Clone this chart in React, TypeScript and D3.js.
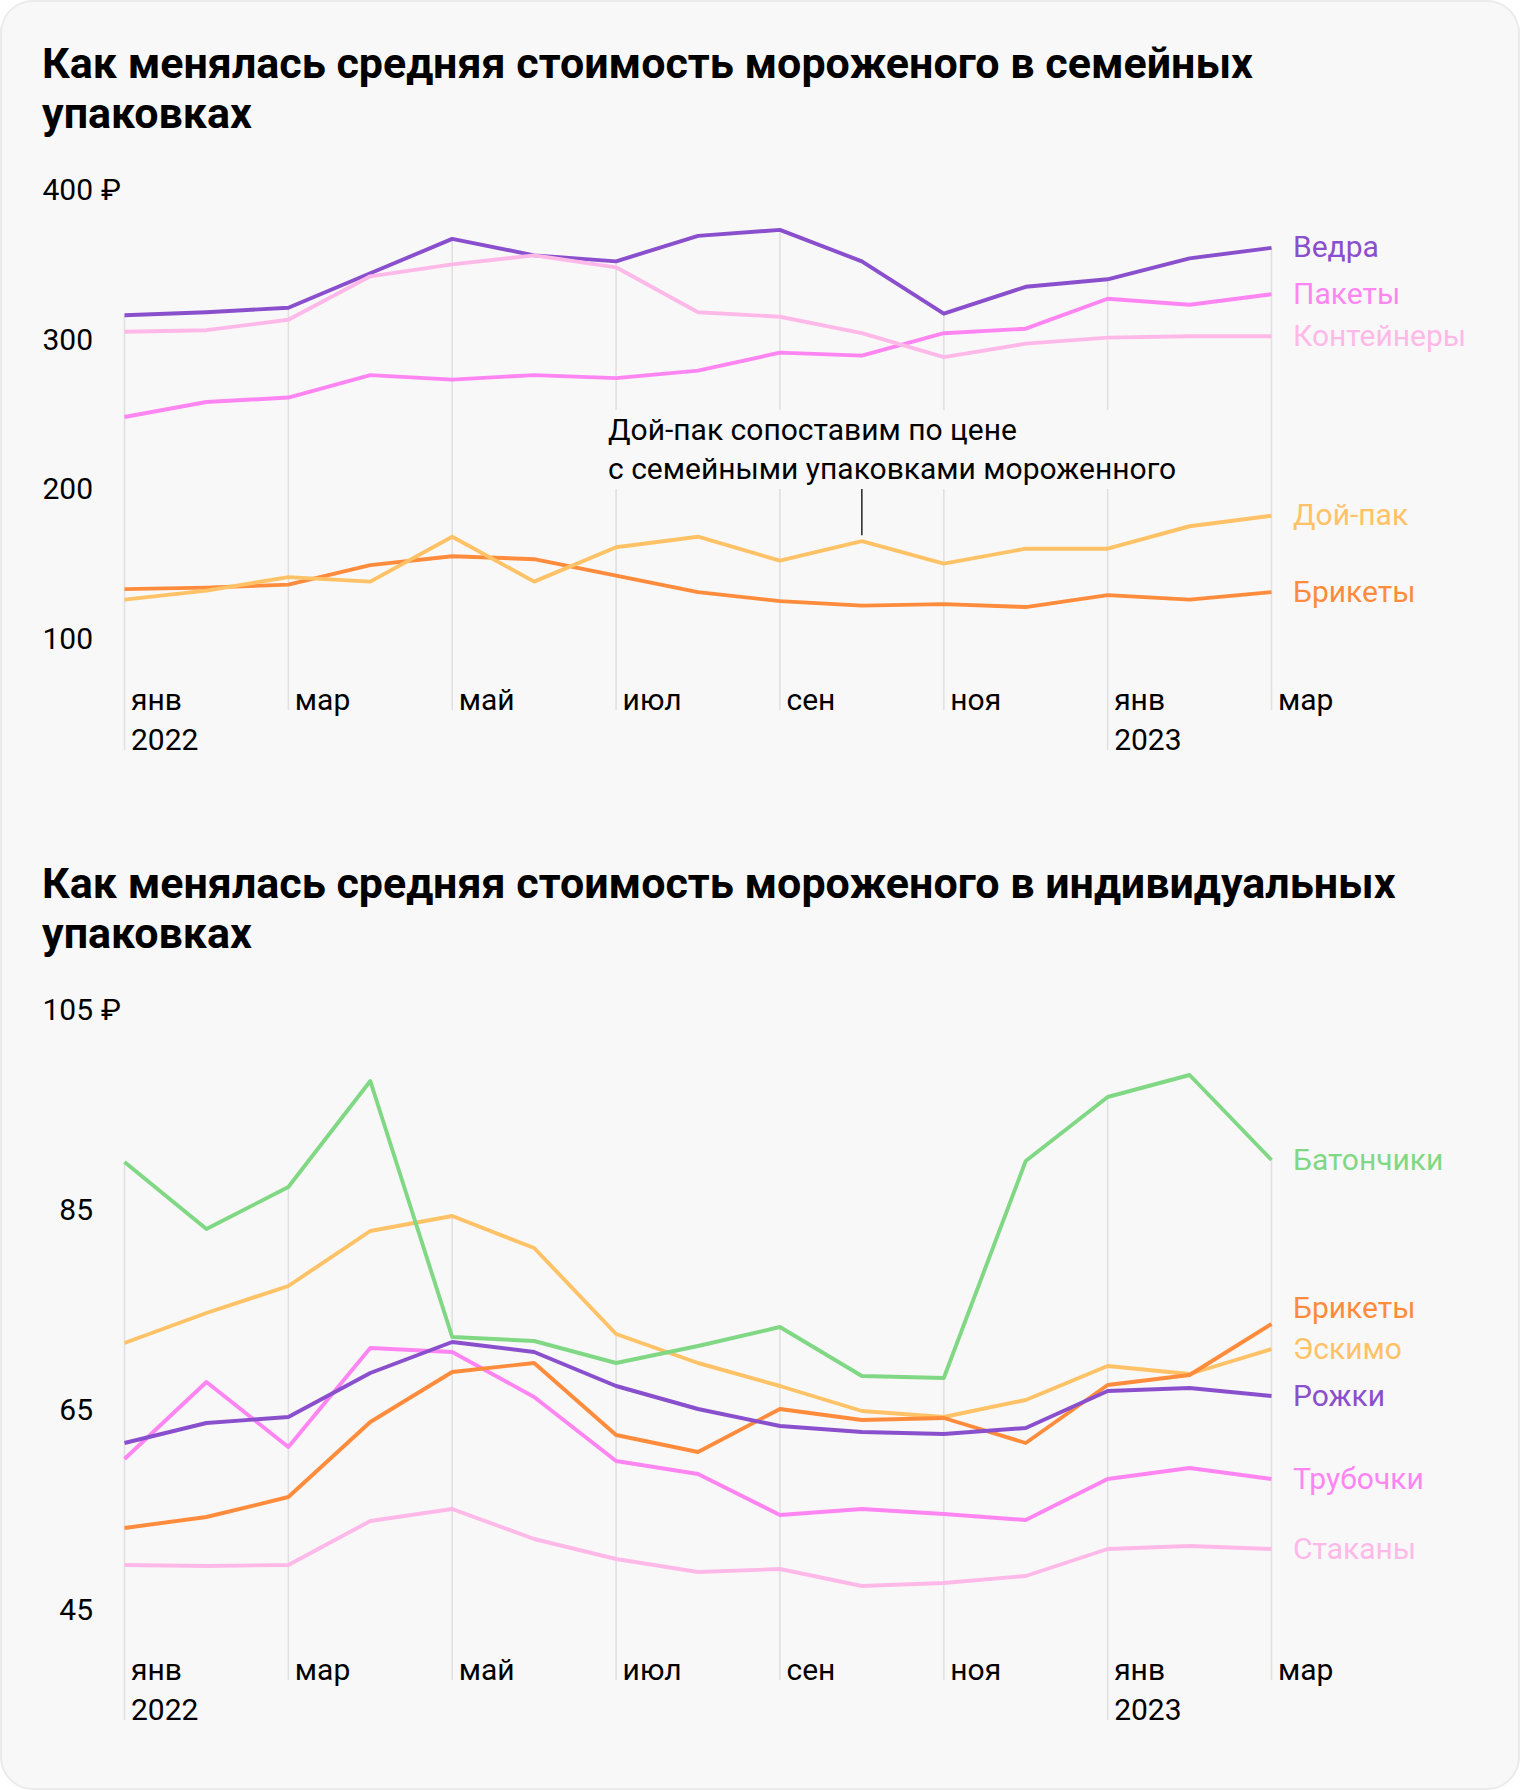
import React from 'react';
import * as d3 from 'd3';

// ---------- DATA ----------
const months = ['янв', 'фев', 'мар', 'апр', 'май', 'июн', 'июл', 'авг', 'сен', 'окт', 'ноя', 'дек', 'янв', 'фев', 'мар'];
const yearLabels = ['2022', '2023'];
const yearIndex = [0, 12];

// Family packs (₽)
const familyNames = ['Ведра', 'Пакеты', 'Контейнеры', 'Дой-пак', 'Брикеты'];
const vedra = [317, 319, 322, 345, 368, 357, 353, 370, 374, 353, 318, 336, 341, 355, 362];
const pakety = [249, 259, 262, 277, 274, 277, 275, 280, 292, 290, 305, 308, 328, 324, 331];
const konteinery = [306, 307, 314, 343, 351, 357, 349, 319, 316, 305, 289, 298, 302, 303, 303];
const doipak = [127, 133, 142, 139, 169, 139, 162, 169, 153, 166, 151, 161, 161, 176, 183];
const briketyFamily = [134, 135, 137, 150, 156, 154, 143, 132, 126, 123, 124, 122, 130, 127, 132];
const familyTicks = [400, 300, 200, 100];

// Individual packs (₽)
const indivNames = ['Батончики', 'Брикеты', 'Эскимо', 'Рожки', 'Трубочки', 'Стаканы'];
const batonchiki = [89.9, 83.2, 87.4, 98.0, 72.4, 72.0, 69.8, 71.5, 73.4, 68.5, 68.3, 90.0, 96.4, 98.6, 90.1];
const briketyIndiv = [53.3, 54.4, 56.4, 63.9, 68.9, 69.8, 62.6, 60.9, 65.2, 64.1, 64.3, 61.8, 67.6, 68.6, 73.7];
const eskimo = [71.8, 74.8, 77.5, 83.0, 84.5, 81.3, 72.7, 69.8, 67.5, 65.0, 64.4, 66.1, 69.5, 68.7, 71.2];
const rozhki = [61.8, 63.8, 64.4, 68.8, 71.9, 70.9, 67.5, 65.2, 63.5, 62.9, 62.7, 63.3, 67.0, 67.3, 66.5];
const trubochki = [60.2, 67.9, 61.4, 71.3, 70.9, 66.4, 60.0, 58.7, 54.6, 55.2, 54.7, 54.1, 58.2, 59.3, 58.2];
const stakany = [49.6, 49.5, 49.6, 54.0, 55.2, 52.2, 50.2, 48.9, 49.2, 47.5, 47.8, 48.5, 51.2, 51.5, 51.2];
const indivTicks = [105, 85, 65, 45];

const annotationLines = ['Дой-пак сопоставим по цене', 'с семейными упаковками мороженного'];
const annotationIndex = 9;

// ---------- STYLE ----------
const PURPLE = '#8a4fcc';
const PINK = '#ff85f3';
const LIGHTPINK = '#ffb9e9';
const LIGHTORANGE = '#ffc266';
const ORANGE = '#ff8c3c';
const GREEN = '#80d884';
const FONT = 'Roboto, "Noto Sans", Arial, sans-serif';
const BG = '#f8f8f8';
const GRID = '#e1e1e1';

const x = d3.scaleLinear().domain([0, 14]).range([124.5, 1271.5]);

type Series = { name: string; values: number[]; color: string };

function Panel(props: {
  title: string[];
  titleY: number;
  yScale: d3.ScaleLinear<number, number>;
  ticks: number[];
  series: Series[];
  drawOrder: number[];
  axisY: number;
  annotation?: boolean;
}) {
  const { title, titleY, yScale: y, ticks, series, drawOrder, axisY, annotation } = props;
  const line = d3.line<number>().x((_, i) => x(i)).y((d) => y(d));

  const gridIdx = d3.range(0, 15, 2);
  const gridTop = (i: number) => d3.min(series, (s) => y(s.values[i])) as number;

  const labels = series.map((s) => ({ name: s.name, color: s.color, y: y(s.values[14]) }));
  const sorted = [...labels].sort((a, b) => b.y - a.y);
  for (let k = 1; k < sorted.length; k++) {
    if (sorted[k].y > sorted[k - 1].y - 41) sorted[k].y = sorted[k - 1].y - 41;
  }

  const annX = x(annotationIndex);
  return (
    <g>
      {title.map((t, i) => (
        <text key={i} x={42} y={titleY + i * 50} fontFamily={FONT} fontWeight={700} fontSize={43} fill="#000">
          {t}
        </text>
      ))}
      {ticks.map((t, i) => (
        <g key={t}>
          <text x={93} y={y(t) + 9} textAnchor="end" fontFamily={FONT} fontSize={30} fill="#000">
            {t}
          </text>
          {i === 0 && (
            <text x={101} y={y(t) + 9} fontFamily={FONT} fontSize={30} fill="#000">
              ₽
            </text>
          )}
        </g>
      ))}
      {gridIdx.map((i) => (
        <line
          key={i}
          x1={x(i)}
          x2={x(i)}
          y1={gridTop(i)}
          y2={yearIndex.includes(i) ? axisY + 40 : axisY}
          stroke={GRID}
          strokeWidth={1.6}
        />
      ))}
      {gridIdx.map((i) => (
        <text key={'m' + i} x={x(i) + 6.5} y={axisY} fontFamily={FONT} fontSize={30} fill="#000">
          {months[i]}
        </text>
      ))}
      {yearIndex.map((i, k) => (
        <text key={'y' + i} x={x(i) + 6.5} y={axisY + 40} fontFamily={FONT} fontSize={30} fill="#000">
          {yearLabels[k]}
        </text>
      ))}
      {annotation && (
        <g>
          <rect x={598} y={410} width={594} height={79} fill={BG} />
          {annotationLines.map((t, i) => (
            <text key={i} x={608} y={440 + i * 39} fontFamily={FONT} fontSize={30} fill="#000">
              {t}
            </text>
          ))}
        </g>
      )}
      {drawOrder.map((k) => {
        const s = series[k];
        return (
          <path
            key={s.name}
            d={line(s.values) as string}
            fill="none"
            stroke={s.color}
            strokeWidth={3.9}
            strokeLinejoin="round"
            strokeLinecap="butt"
          />
        );
      })}
      {annotation && (
        <line
          x1={annX}
          x2={annX}
          y1={489}
          y2={y(doipak[annotationIndex]) - 6}
          stroke="#222"
          strokeWidth={1.5}
        />
      )}
      {labels.map((l) => (
        <text key={l.name} x={1293} y={l.y + 9.5} fontFamily={FONT} fontSize={30} fill={l.color}>
          {l.name}
        </text>
      ))}
    </g>
  );
}

export default function App() {
  const yTop = d3.scaleLinear().domain([100, 400]).range([640, 191]);
  const yBottom = d3.scaleLinear().domain([45, 105]).range([1611, 1011]);

  const familySeries: Series[] = [
    { name: familyNames[0], values: vedra, color: PURPLE },
    { name: familyNames[1], values: pakety, color: PINK },
    { name: familyNames[2], values: konteinery, color: LIGHTPINK },
    { name: familyNames[3], values: doipak, color: LIGHTORANGE },
    { name: familyNames[4], values: briketyFamily, color: ORANGE },
  ];
  const indivSeries: Series[] = [
    { name: indivNames[0], values: batonchiki, color: GREEN },
    { name: indivNames[1], values: briketyIndiv, color: ORANGE },
    { name: indivNames[2], values: eskimo, color: LIGHTORANGE },
    { name: indivNames[3], values: rozhki, color: PURPLE },
    { name: indivNames[4], values: trubochki, color: PINK },
    { name: indivNames[5], values: stakany, color: LIGHTPINK },
  ];

  return (
    <div>
      <style>{`body{margin:0;background:#fff}`}</style>
      <svg width={1520} height={1790} style={{ display: 'block' }}>
        <rect x={1} y={1} width={1518} height={1788} rx={32} fill={BG} stroke="#ebebeb" strokeWidth={2} />
        <Panel
          title={['Как менялась средняя стоимость мороженого в семейных', 'упаковках']}
          titleY={78}
          yScale={yTop}
          ticks={familyTicks}
          series={familySeries}
          drawOrder={[4, 3, 1, 0, 2]}
          axisY={710}
          annotation
        />
        <Panel
          title={['Как менялась средняя стоимость мороженого в индивидуальных', 'упаковках']}
          titleY={898}
          yScale={yBottom}
          ticks={indivTicks}
          series={indivSeries}
          drawOrder={[5, 4, 2, 1, 3, 0]}
          axisY={1680}
        />
      </svg>
    </div>
  );
}
